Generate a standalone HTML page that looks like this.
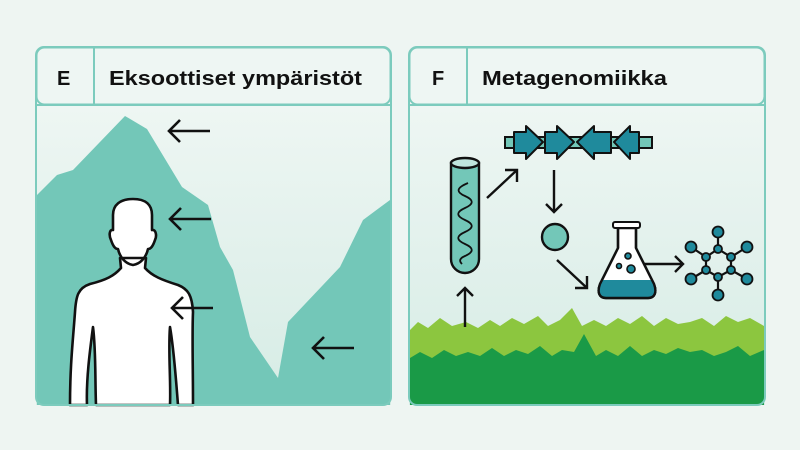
<!DOCTYPE html>
<html><head><meta charset="utf-8"><style>
body{margin:0;background:#eef5f2;}
svg{display:block}
text{font-family:"Liberation Sans",sans-serif;font-weight:bold;fill:#111}
</style></head><body>
<svg width="800" height="450" viewBox="0 0 800 450" xmlns="http://www.w3.org/2000/svg">
<defs>
<linearGradient id="g" x1="0" y1="0" x2="0" y2="1"><stop offset="0" stop-color="#eef6f3"/><stop offset="1" stop-color="#d6ece5"/></linearGradient>
</defs>
<rect width="800" height="450" fill="#eef5f2"/>
<!-- Panel E -->
<rect x="36" y="105" width="355" height="300" fill="url(#g)"/>
<polygon fill="#73c7b8" points="37,195 57,175 73,170 125,116 147,129 182,187 208,205 220,247 233,270 250,337 278,378 288,322 340,267 363,220 390,200 390,405 37,405"/>
<path d="M133,199 C120,199 113,205 113,215 L113,230 C109,229 109,236 111,240 C113,246 115,249 118,249 C120,258 126,264 133,265 C140,264 146,258 148,249 C151,249 153,246 155,240 C157,236 156,229 152,230 L152,215 C152,205 146,199 133,199 Z M120,258 L121,268 C114,276 106,280 90,284 C78,288 76,296 75,312 C73,340 70,365 70,405 L87,405 C86,380 90,350 93,327 C96,350 95,380 96,405 L170,405 C171,380 168,350 170,327 C174,350 176,380 178,405 L193,405 C193,365 192,335 193,312 C192,295 188,289 178,285 C162,280 152,276 145,268 L146,258 Z" fill="#fff" stroke="#111" stroke-width="2.6" stroke-linejoin="round"/>
<g stroke="#111" stroke-width="2.6" fill="none">
<path d="M210,131 H169 M180,120 L169,131 L180,142"/>
<path d="M211,219 H170 M181,208 L170,219 L181,230"/>
<path d="M213,308 H172 M183,297 L172,308 L183,319"/>
<path d="M354,348 H313 M324,337 L313,348 L324,359"/>
</g>
<rect x="36" y="47" width="355" height="358" rx="8" fill="none" stroke="#7ccbbd" stroke-width="2"/>
<rect x="36.5" y="47.5" width="354" height="57" rx="8" fill="#eef6f3" stroke="#7ccbbd" stroke-width="2"/>
<line x1="36" y1="105" x2="391" y2="105" stroke="#7ccbbd" stroke-width="2"/>
<line x1="94" y1="48" x2="94" y2="105" stroke="#7ccbbd" stroke-width="2"/>
<text x="57" y="85" font-size="20">E</text>
<text x="109" y="85" font-size="20" textLength="253" lengthAdjust="spacingAndGlyphs">Eksoottiset ympäristöt</text>
<!-- Panel F -->
<rect x="409" y="105" width="356" height="300" fill="url(#g)"/>
<polygon fill="#8cc63f" points="410,330 418,322 428,328 440,318 452,326 466,322 478,328 490,320 500,326 512,318 524,324 538,316 548,326 560,320 572,308 582,326 594,320 606,326 618,318 630,324 642,316 654,326 666,318 678,324 690,322 702,318 714,326 726,316 738,322 750,318 764,326 764,405 410,405"/>
<polygon fill="#1a9a47" points="410,358 420,352 432,358 444,350 456,356 468,352 480,356 492,348 504,356 516,350 528,354 540,346 552,356 562,350 574,352 584,334 596,356 606,350 618,356 630,346 642,356 654,350 666,354 678,348 690,352 702,350 714,356 726,352 738,346 750,356 764,350 764,405 410,405"/>
<g stroke="#111" stroke-width="2.4" fill="none">
<path d="M465,327 V288 M457,296 L465,288 L473,296"/>
<path d="M487,198 L517,170 M505,170 L517,170 L517,182"/>
<path d="M554,170 V212 M546,204 L554,212 L562,204"/>
<path d="M557,260 L587,288 M575,288 L587,288 L587,276"/>
<path d="M643,264 H683 M675,256 L683,264 L675,272"/>
</g>
<!-- tube -->
<path d="M451,163 V259 A14,14 0 0 0 479,259 V163 Z" fill="#73c7b8" stroke="#111" stroke-width="2.4"/>
<ellipse cx="465" cy="163" rx="14" ry="5" fill="#bfe5dd" stroke="#111" stroke-width="2.4"/>
<path d="M468,183 C456,188 456,192 465,196 C474,200 474,204 465,208 C456,212 456,216 465,220 C474,224 474,228 465,232 C456,236 456,240 465,244 C474,248 474,252 465,256 C458,259 460,262 462,264" fill="none" stroke="#111" stroke-width="1.8"/>
<!-- DNA -->
<rect x="505" y="137" width="147" height="11" fill="#73c7b8" stroke="#111" stroke-width="2"/>
<g fill="#1f8a9c" stroke="#111" stroke-width="2" stroke-linejoin="round">
<polygon points="514,132 526,132 526,126 543,142 526,159 526,153 514,153"/>
<polygon points="545,132 557,132 557,126 574,142 557,159 557,153 545,153"/>
<polygon points="611,132 594,132 594,126 577,142 594,159 594,153 611,153"/>
<polygon points="639,132 630,132 630,126 614,142 630,159 630,153 639,153"/>
</g>
<circle cx="555" cy="237" r="13" fill="#73c7b8" stroke="#111" stroke-width="2.4"/>
<!-- flask -->
<path d="M618,228 V248 L600,284 C597,292 599,298 606,298 H648 C655,298 657,292 654,284 L636,248 V228 Z" fill="#fff" stroke="#111" stroke-width="2.4" stroke-linejoin="round"/>
<path d="M602,280 H652 L654,285 C656,292 655,297 648,297 H606 C599,297 598,292 600,285 Z" fill="#1f8a9c"/>
<path d="M618,228 V248 L600,284 C597,292 599,298 606,298 H648 C655,298 657,292 654,284 L636,248 V228" fill="none" stroke="#111" stroke-width="2.4" stroke-linejoin="round"/>
<rect x="613" y="222" width="27" height="6" rx="2" fill="#fff" stroke="#111" stroke-width="2"/>
<g fill="#1f8a9c" stroke="#111" stroke-width="1.6"><circle cx="628" cy="256" r="3"/><circle cx="619" cy="266" r="2.5"/><circle cx="631" cy="269" r="4"/></g>
<!-- molecule -->
<g stroke="#111" stroke-width="2.2" fill="none">
<polygon points="718,249 731,257 731,270 718,277 706,270 706,257"/>
<path d="M718,249 V232 M731,257 L747,247 M731,270 L747,279 M718,277 V295 M706,270 L691,279 M706,257 L691,247"/>
</g>
<g fill="#1f8a9c" stroke="#111" stroke-width="1.8">
<circle cx="718" cy="232" r="5.5"/><circle cx="747" cy="247" r="5.5"/><circle cx="747" cy="279" r="5.5"/><circle cx="718" cy="295" r="5.5"/><circle cx="691" cy="279" r="5.5"/><circle cx="691" cy="247" r="5.5"/>
<circle cx="718" cy="249" r="4"/><circle cx="731" cy="257" r="4"/><circle cx="731" cy="270" r="4"/><circle cx="718" cy="277" r="4"/><circle cx="706" cy="270" r="4"/><circle cx="706" cy="257" r="4"/>
</g>
<rect x="409" y="47" width="356" height="358" rx="8" fill="none" stroke="#7ccbbd" stroke-width="2"/>
<rect x="409.5" y="47.5" width="355" height="57" rx="8" fill="#eef6f3" stroke="#7ccbbd" stroke-width="2"/>
<line x1="409" y1="105" x2="765" y2="105" stroke="#7ccbbd" stroke-width="2"/>
<line x1="467" y1="48" x2="467" y2="105" stroke="#7ccbbd" stroke-width="2"/>
<text x="432" y="85" font-size="20">F</text>
<text x="482" y="85" font-size="20" textLength="185" lengthAdjust="spacingAndGlyphs">Metagenomiikka</text>
</svg>
</body></html>
